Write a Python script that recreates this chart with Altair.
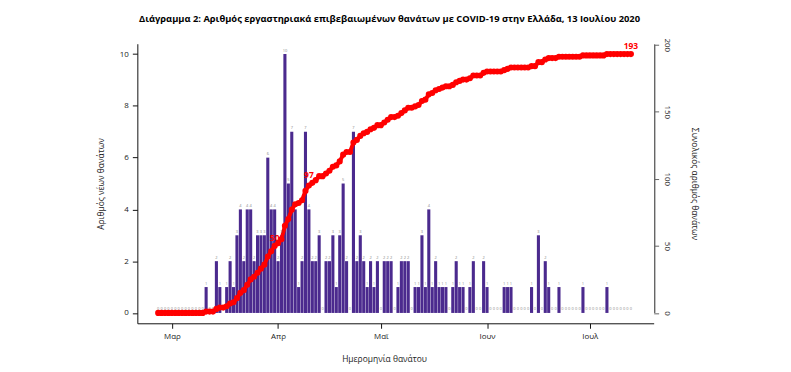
import altair as alt
import pandas as pd

# ---- data ----
dates = pd.date_range("2020-02-26", "2020-07-13", freq="D")
new_deaths = [
    0, 0, 0, 0, 0, 0, 0, 0, 0, 0, 0, 0, 0, 0,   # Feb 26 - Mar 10
    1, 0, 0, 2, 1, 0, 1, 2, 1,                  # d14-22
    3, 4, 2, 4, 4, 2, 3, 3, 3,                  # d23-31
    6, 4, 4, 2, 3,                              # d32-36
    10, 5, 7, 4, 1, 2, 7, 4, 2, 2, 3,           # d37-47
    0, 2, 2, 3, 1, 3, 5, 2, 0,                  # d48-56
    7, 2, 3, 2, 1, 2, 1, 2,                     # d57-64
    0, 2, 2, 2, 0, 1, 2, 2, 2, 0,               # d65-74
    1, 1, 3, 1, 4, 1, 2, 1, 1, 1,               # d75-84
    0, 1, 2, 1, 1, 0, 1, 2, 0, 0, 2, 1,         # d85-96
    0, 0, 0, 0, 1, 1, 1, 0, 0, 0, 0, 0,         # d97-108
    1, 0, 3, 0, 2, 1, 0, 0, 1,                  # d109-117
    0, 0, 0, 0, 0, 0, 1,                        # d118-124
    0, 0, 0, 0, 0, 0, 1,                        # d125-131
    0, 0, 0, 0, 0, 0, 0,                        # d132-138
]
month_labels = ["Μαρ", "Απρ", "Μαϊ", "Ιουν", "Ιουλ"]
label_days = [34, 44, 138]
label_values = [50, 97, 193]

title_text = ("Διάγραμμα 2: Αριθμός εργαστηριακά επιβεβαιωμένων θανάτων "
              "με COVID-19 στην Ελλάδα, 13 Ιουλίου 2020")

df = pd.DataFrame({"day": range(len(dates)), "deaths": new_deaths})
month_ticks = [i for i, d in enumerate(dates) if d.day == 1]
lab_df = pd.DataFrame({"day": label_days, "value": label_values})

W, H = 519, 281
FONT = "Open Sans"

x_scale = alt.Scale(domain=[-4.63, 143.19], nice=False, zero=False)
arr_ticks = "[" + ",".join(str(t) for t in month_ticks) + "]"
arr_labs = "[" + ",".join("'" + m + "'" for m in month_labels) + "]"
x_axis = alt.Axis(
    values=month_ticks,
    labelExpr=f"{arr_labs}[indexof({arr_ticks}, datum.value)]",
    title="Ημερομηνία θανάτου",
    grid=False, domainColor="#111", tickColor="#111", tickSize=5,
    labelFontSize=8, labelColor="#222", labelPadding=4, labelFont=FONT,
    titleFontSize=8.5, titleFontWeight="normal", titleColor="#222", titleFont=FONT,
    titlePadding=14, titleX=248,
)
x_enc = alt.X("day:Q", scale=x_scale, axis=x_axis)

left_scale = alt.Scale(domain=[-0.4, 10.4], nice=False, zero=False)
left_axis = alt.Axis(
    values=[0, 2, 4, 6, 8, 10], grid=False, domainColor="#111", tickColor="#111",
    tickSize=5, labelFontSize=8, labelColor="#222", labelPadding=4, labelFont=FONT,
    title="Αριθμός νέων θανάτων", titleFontSize=8.5, titleFontWeight="normal",
    titleColor="#222", titleFont=FONT, titlePadding=14,
)

right_scale = alt.Scale(domain=[-7.72, 200.72], nice=False, zero=False)
right_axis = alt.Axis(
    orient="right", values=[0, 50, 100, 150, 200], grid=False, domain=False,
    tickColor="#666", tickSize=5, labelAngle=90, labelFontSize=8,
    labelColor="#222", labelPadding=4, labelFont=FONT,
    title="Συνολικός αριθμός θανάτων", titleFontSize=8.5, titleFontWeight="normal",
    titleColor="#222", titleFont=FONT, titlePadding=19,
)

bars = alt.Chart(df).mark_bar(width=3.1, color="#4b2a8e").encode(
    x=x_enc,
    y=alt.Y("deaths:Q", scale=left_scale, axis=left_axis),
)

cum_base = alt.Chart(df).transform_window(
    cum="sum(deaths)", sort=[alt.SortField("day")], frame=[None, 0]
)
cum_line = cum_base.mark_line(color="#ff0000", strokeWidth=4).encode(
    x=x_enc,
    y=alt.Y("cum:Q", scale=right_scale, axis=right_axis),
)

bar_text = alt.Chart(df).mark_text(
    fontSize=4, color="#888", baseline="bottom", dy=-1.5, font=FONT
).encode(
    x=x_enc,
    y=alt.Y("deaths:Q", scale=left_scale, axis=None),
    text="deaths:Q",
)
cum_pts = cum_base.mark_circle(color="#ff0000", size=38, opacity=1).encode(
    x=x_enc,
    y=alt.Y("cum:Q", scale=right_scale, axis=None),
)
cum_labels = alt.Chart(lab_df).mark_text(
    color="#ff0000", fontSize=8.5, fontWeight="bold", baseline="bottom", dy=-3,
    font=FONT,
).encode(
    x=x_enc,
    y=alt.Y("value:Q", scale=right_scale, axis=None),
    text="value:Q",
)
right_rule = alt.Chart(lab_df).mark_rule(color="#666", strokeWidth=1).encode(
    x=alt.value(W + 1),
    y=alt.datum(0, scale=right_scale, axis=None),
    y2=alt.datum(200),
)

chart = alt.layer(
    bars, cum_line, bar_text, cum_pts, cum_labels, right_rule
).resolve_scale(y="independent").properties(
    width=W, height=H,
    title=alt.TitleParams(title_text, fontSize=9.4, fontWeight="bold", font=FONT,
                          color="#000", anchor="middle", dx=-6, offset=14),
    autosize=alt.AutoSizeParams(type="none"),
    padding={"left": 130, "top": 35, "right": 130, "bottom": 40},
).configure_view(strokeWidth=0)

chart.save("out.html", embed_options={"renderer": "svg", "actions": False})
